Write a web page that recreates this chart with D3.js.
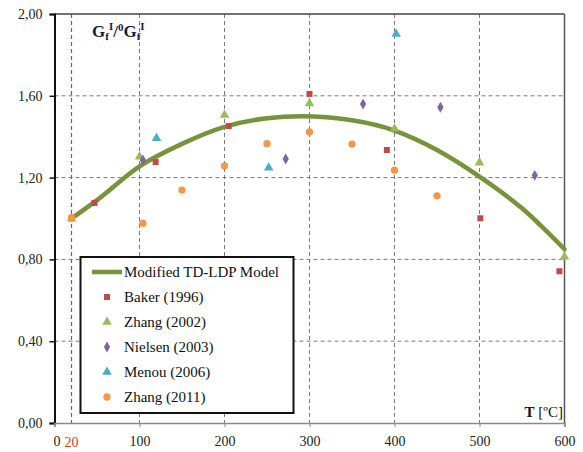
<!DOCTYPE html>
<html><head><meta charset="utf-8">
<script src="https://cdn.jsdelivr.net/npm/d3@7"></script>
<style>body{margin:0;background:#fff}svg{display:block;font-family:"Liberation Serif","DejaVu Serif",serif}</style>
</head><body><svg id="c" width="583" height="452"></svg>
<script>
// ---- data ----
const modelX = [20, 50, 100, 150, 200, 250, 290, 350, 400, 450, 500, 550, 600];
const modelY = [1.00, 1.09, 1.255, 1.365, 1.448, 1.49, 1.50, 1.48, 1.43, 1.335, 1.205, 1.05, 0.85];
const bakerX = [20, 47, 119, 205, 300, 391, 501, 594];
const bakerY = [1.00, 1.076, 1.276, 1.452, 1.609, 1.335, 1.001, 0.742];
const zhang02X = [20, 100, 200, 300, 400, 500, 600];
const zhang02Y = [1.00, 1.302, 1.506, 1.563, 1.439, 1.273, 0.813];
const nielsenX = [104, 272, 363, 454, 565];
const nielsenY = [1.286, 1.291, 1.56, 1.544, 1.211];
const menouX = [120, 252, 402];
const menouY = [1.392, 1.248, 1.902];
const zhang11X = [20, 104, 150, 200, 250, 300, 350, 400, 450];
const zhang11Y = [1.004, 0.977, 1.139, 1.257, 1.366, 1.423, 1.364, 1.236, 1.111];
const xTicks = [0, 100, 200, 300, 400, 500, 600];
const yTicks = [0, 0.4, 0.8, 1.2, 1.6, 2.0];
const refT = 20;
const legendLabels = ["Modified TD-LDP Model", "Baker (1996)", "Zhang (2002)", "Nielsen (2003)", "Menou (2006)", "Zhang (2011)"];

// ---- chart ----
const svg = d3.select("#c");
const L = 54.5, R = 564.5, T = 14, B = 423;
const x = d3.scaleLinear().domain([0, 600]).range([L, R]);
const y = d3.scaleLinear().domain([0, 2]).range([B, T]);
const serif = "Liberation Serif, DejaVu Serif, serif";
const grid = "#7a7a7a";

// grid
svg.append("g").selectAll("line").data(xTicks.filter(d => d > 0 && d < 600)).join("line")
  .attr("x1", d => x(d)).attr("x2", d => x(d)).attr("y1", T).attr("y2", B)
  .attr("stroke", grid).attr("stroke-width", 1).attr("stroke-dasharray", "4,3");
svg.append("g").selectAll("line").data(yTicks.filter(d => d > 0 && d < 2)).join("line")
  .attr("x1", L).attr("x2", R).attr("y1", d => y(d)).attr("y2", d => y(d))
  .attr("stroke", grid).attr("stroke-width", 1).attr("stroke-dasharray", "4,3");

// red reference line
svg.append("line").attr("x1", x(refT)).attr("x2", x(refT)).attr("y1", T).attr("y2", B + 4)
  .attr("stroke", "#e03030").attr("stroke-width", 1.2).attr("stroke-dasharray", "4,3");

// frame
svg.append("line").attr("x1", L).attr("x2", R).attr("y1", T).attr("y2", T).attr("stroke", "#444").attr("stroke-width", 1.5);
svg.append("line").attr("x1", R).attr("x2", R).attr("y1", T).attr("y2", B).attr("stroke", "#555").attr("stroke-width", 1.5);

// axes
const yAxis = svg.append("g").attr("transform", `translate(${L},0)`)
  .call(d3.axisLeft(y).tickValues(yTicks).tickSize(5).tickPadding(7)
    .tickFormat(d => d3.format(".2f")(d).replace(".", ",")));
yAxis.attr("font-family", null).attr("font-size", null);
yAxis.select(".domain").attr("stroke", "#111").attr("stroke-width", 2);
yAxis.selectAll(".tick line").attr("stroke", "#111").attr("stroke-width", 1.5);
yAxis.selectAll("text").style("font-family", serif).style("font-size", "14px").attr("fill", "#222");

const xAxis = svg.append("g").attr("transform", `translate(0,${B})`)
  .call(d3.axisBottom(x).tickValues(xTicks).tickSize(4).tickPadding(9).tickFormat(d3.format("d")));
xAxis.attr("font-family", null).attr("font-size", null);
xAxis.select(".domain").attr("stroke", "#8a8a8a").attr("stroke-width", 1.5);
xAxis.selectAll(".tick line").attr("stroke", "#8a8a8a");
xAxis.selectAll("text").style("font-family", serif).style("font-size", "14px").attr("fill", "#222");
xAxis.select(".tick text").attr("dx", "2");
svg.append("text").attr("x", x(refT)).attr("y", B + 24).attr("text-anchor", "middle")
  .style("font-family", serif).style("font-size", "14px").attr("fill", "#e03030").text(String(refT));

// model curve
const model = modelX.map((d, i) => [d, modelY[i]]);
svg.append("path").datum(model)
  .attr("d", d3.line().x(d => x(d[0])).y(d => y(d[1])).curve(d3.curveMonotoneX))
  .attr("fill", "none").attr("stroke", "#77933c").attr("stroke-width", 4.5).attr("stroke-linecap", "round");

// markers
const sym = {
  square: d3.symbol().type(d3.symbolSquare).size(36),
  triangle: d3.symbol().type(d3.symbolTriangle).size(40),
  diamond: d3.symbol().type(d3.symbolDiamond).size(34),
  circle: d3.symbol().type(d3.symbolCircle).size(42)
};
const series = [
  {xs: bakerX, ys: bakerY, color: "#be4b48", s: "square"},
  {xs: zhang02X, ys: zhang02Y, color: "#9bbb59", s: "triangle"},
  {xs: nielsenX, ys: nielsenY, color: "#8064a2", s: "diamond"},
  {xs: menouX, ys: menouY, color: "#4bacc6", s: "triangle"},
  {xs: zhang11X, ys: zhang11Y, color: "#f79646", s: "circle"}
];
series.forEach(se => {
  svg.append("g").selectAll("path").data(se.xs.map((d, i) => [d, se.ys[i]])).join("path")
    .attr("d", sym[se.s]).attr("transform", d => `translate(${x(d[0])},${y(d[1])})`)
    .attr("fill", se.color);
});

// legend
const lg = svg.append("g");
lg.append("rect").attr("x", 80.5).attr("y", 257).attr("width", 213).attr("height", 156)
  .attr("fill", "#fff").attr("stroke", "#111").attr("stroke-width", 2);
const ly0 = 272, ldy = 25;
lg.append("line").attr("x1", 92).attr("x2", 122).attr("y1", ly0).attr("y2", ly0)
  .attr("stroke", "#77933c").attr("stroke-width", 4.5);
series.forEach((se, i) => {
  lg.append("path").attr("d", sym[se.s]).attr("transform", `translate(107,${ly0 + (i + 1) * ldy})`).attr("fill", se.color);
});
legendLabels.forEach((t, i) => {
  lg.append("text").attr("x", 124).attr("y", ly0 + i * ldy + 5).style("font-family", serif)
    .style("font-size", "15px").attr("fill", "#111").text(t);
});

// axis titles
const tt = svg.append("text").attr("x", 563).attr("y", 417).attr("text-anchor", "end")
  .style("font-family", serif).style("font-size", "15px").attr("fill", "#111");
tt.append("tspan").attr("font-weight", "bold").text("T");
tt.append("tspan").text(" [ºC]");

const gt = svg.append("text").attr("x", 92).attr("y", 37).style("font-family", serif)
  .attr("font-weight", "bold").style("font-size", "17px").attr("fill", "#1b1b3a");
gt.append("tspan").text("G");
gt.append("tspan").style("font-size", "11px").attr("dy", 3).text("f");
gt.append("tspan").style("font-size", "11px").attr("dy", -10).text("I");
gt.append("tspan").attr("dy", 7).text("/");
gt.append("tspan").style("font-size", "11px").attr("dy", -6).text("0");
gt.append("tspan").attr("dy", 6).text("G");
gt.append("tspan").style("font-size", "11px").attr("dy", 3).text("f");
gt.append("tspan").style("font-size", "11px").attr("dy", -10).text("I");
</script></body></html>
